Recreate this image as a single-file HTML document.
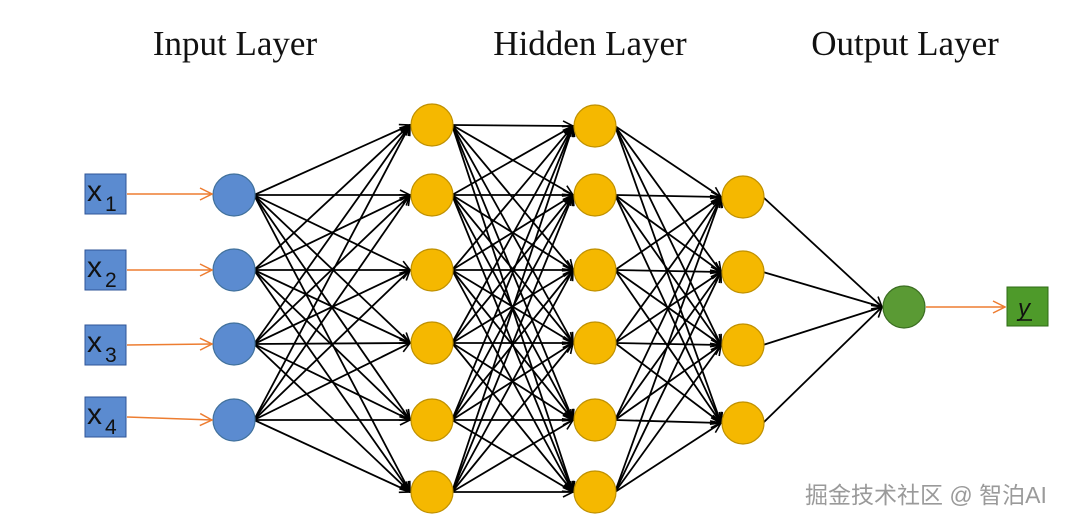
<!DOCTYPE html>
<html><head><meta charset="utf-8"><style>
body{margin:0;background:#fff;width:1080px;height:528px;overflow:hidden}
svg{display:block}
</style></head><body>
<svg width="1080" height="528" xmlns="http://www.w3.org/2000/svg">
<defs>
<marker id="a" markerWidth="12" markerHeight="12" refX="11" refY="6" orient="auto" markerUnits="userSpaceOnUse"><path d="M1,1 L11,6 L1,11" fill="none" stroke="#000" stroke-width="1.6"/></marker>
<marker id="o" markerWidth="14" markerHeight="14" refX="13" refY="7" orient="auto" markerUnits="userSpaceOnUse"><path d="M1,1 L13,7 L1,13" fill="none" stroke="#ed7d31" stroke-width="1.5"/></marker>
</defs>
<g font-family="Liberation Serif, serif" font-size="35" fill="#111" text-anchor="middle">
<text x="235" y="55">Input Layer</text>
<text x="590" y="55">Hidden Layer</text>
<text x="905" y="55">Output Layer</text>
</g>
<g stroke="#000" stroke-width="1.8" marker-end="url(#a)">
<!-- L0 -> L1 -->
<line x1="254" y1="195" x2="410" y2="125"/><line x1="254" y1="195" x2="410" y2="195"/><line x1="254" y1="195" x2="410" y2="270"/><line x1="254" y1="195" x2="410" y2="343"/><line x1="254" y1="195" x2="410" y2="420"/><line x1="254" y1="195" x2="410" y2="492"/>
<line x1="254" y1="270" x2="410" y2="125"/><line x1="254" y1="270" x2="410" y2="195"/><line x1="254" y1="270" x2="410" y2="270"/><line x1="254" y1="270" x2="410" y2="343"/><line x1="254" y1="270" x2="410" y2="420"/><line x1="254" y1="270" x2="410" y2="492"/>
<line x1="254" y1="344" x2="410" y2="125"/><line x1="254" y1="344" x2="410" y2="195"/><line x1="254" y1="344" x2="410" y2="270"/><line x1="254" y1="344" x2="410" y2="343"/><line x1="254" y1="344" x2="410" y2="420"/><line x1="254" y1="344" x2="410" y2="492"/>
<line x1="254" y1="420" x2="410" y2="125"/><line x1="254" y1="420" x2="410" y2="195"/><line x1="254" y1="420" x2="410" y2="270"/><line x1="254" y1="420" x2="410" y2="343"/><line x1="254" y1="420" x2="410" y2="420"/><line x1="254" y1="420" x2="410" y2="492"/>
<!-- L1 -> L2 -->
<line x1="452" y1="125" x2="573" y2="126"/><line x1="452" y1="125" x2="573" y2="195"/><line x1="452" y1="125" x2="573" y2="270"/><line x1="452" y1="125" x2="573" y2="343"/><line x1="452" y1="125" x2="573" y2="420"/><line x1="452" y1="125" x2="573" y2="492"/>
<line x1="452" y1="195" x2="573" y2="126"/><line x1="452" y1="195" x2="573" y2="195"/><line x1="452" y1="195" x2="573" y2="270"/><line x1="452" y1="195" x2="573" y2="343"/><line x1="452" y1="195" x2="573" y2="420"/><line x1="452" y1="195" x2="573" y2="492"/>
<line x1="452" y1="270" x2="573" y2="126"/><line x1="452" y1="270" x2="573" y2="195"/><line x1="452" y1="270" x2="573" y2="270"/><line x1="452" y1="270" x2="573" y2="343"/><line x1="452" y1="270" x2="573" y2="420"/><line x1="452" y1="270" x2="573" y2="492"/>
<line x1="452" y1="343" x2="573" y2="126"/><line x1="452" y1="343" x2="573" y2="195"/><line x1="452" y1="343" x2="573" y2="270"/><line x1="452" y1="343" x2="573" y2="343"/><line x1="452" y1="343" x2="573" y2="420"/><line x1="452" y1="343" x2="573" y2="492"/>
<line x1="452" y1="420" x2="573" y2="126"/><line x1="452" y1="420" x2="573" y2="195"/><line x1="452" y1="420" x2="573" y2="270"/><line x1="452" y1="420" x2="573" y2="343"/><line x1="452" y1="420" x2="573" y2="420"/><line x1="452" y1="420" x2="573" y2="492"/>
<line x1="452" y1="492" x2="573" y2="126"/><line x1="452" y1="492" x2="573" y2="195"/><line x1="452" y1="492" x2="573" y2="270"/><line x1="452" y1="492" x2="573" y2="343"/><line x1="452" y1="492" x2="573" y2="420"/><line x1="452" y1="492" x2="573" y2="492"/>
<!-- L2 -> L3 -->
<line x1="615" y1="126" x2="721" y2="197"/><line x1="615" y1="126" x2="721" y2="272"/><line x1="615" y1="126" x2="721" y2="345"/><line x1="615" y1="126" x2="721" y2="423"/>
<line x1="615" y1="195" x2="721" y2="197"/><line x1="615" y1="195" x2="721" y2="272"/><line x1="615" y1="195" x2="721" y2="345"/><line x1="615" y1="195" x2="721" y2="423"/>
<line x1="615" y1="270" x2="721" y2="197"/><line x1="615" y1="270" x2="721" y2="272"/><line x1="615" y1="270" x2="721" y2="345"/><line x1="615" y1="270" x2="721" y2="423"/>
<line x1="615" y1="343" x2="721" y2="197"/><line x1="615" y1="343" x2="721" y2="272"/><line x1="615" y1="343" x2="721" y2="345"/><line x1="615" y1="343" x2="721" y2="423"/>
<line x1="615" y1="420" x2="721" y2="197"/><line x1="615" y1="420" x2="721" y2="272"/><line x1="615" y1="420" x2="721" y2="345"/><line x1="615" y1="420" x2="721" y2="423"/>
<line x1="615" y1="492" x2="721" y2="197"/><line x1="615" y1="492" x2="721" y2="272"/><line x1="615" y1="492" x2="721" y2="345"/><line x1="615" y1="492" x2="721" y2="423"/>
<!-- L3 -> out -->
<line x1="763" y1="197" x2="882" y2="307"/><line x1="763" y1="272" x2="882" y2="307"/><line x1="763" y1="345" x2="882" y2="307"/><line x1="763" y1="423" x2="882" y2="307"/>
</g>
<g stroke-width="1.2">
<g fill="#5b8bd0" stroke="#41719c">
<circle cx="234" cy="195" r="21"/><circle cx="234" cy="270" r="21"/><circle cx="234" cy="344" r="21"/><circle cx="234" cy="420" r="21"/>
</g>
<g fill="#f5b800" stroke="#bf9000">
<circle cx="432" cy="125" r="21"/><circle cx="432" cy="195" r="21"/><circle cx="432" cy="270" r="21"/><circle cx="432" cy="343" r="21"/><circle cx="432" cy="420" r="21"/><circle cx="432" cy="492" r="21"/>
<circle cx="595" cy="126" r="21"/><circle cx="595" cy="195" r="21"/><circle cx="595" cy="270" r="21"/><circle cx="595" cy="343" r="21"/><circle cx="595" cy="420" r="21"/><circle cx="595" cy="492" r="21"/>
<circle cx="743" cy="197" r="21"/><circle cx="743" cy="272" r="21"/><circle cx="743" cy="345" r="21"/><circle cx="743" cy="423" r="21"/>
</g>
<circle cx="904" cy="307" r="21" fill="#5a9a34" stroke="#3b6e22"/>
</g>
<g font-family="Liberation Sans, sans-serif" fill="#111">
<rect x="85" y="174" width="41" height="40" fill="#5b8bd0" stroke="#2f5597"/>
<rect x="85" y="250" width="41" height="40" fill="#5b8bd0" stroke="#2f5597"/>
<rect x="85" y="325" width="41" height="40" fill="#5b8bd0" stroke="#2f5597"/>
<rect x="85" y="397" width="41" height="40" fill="#5b8bd0" stroke="#2f5597"/>
<text x="87" y="201" font-size="30">x</text><text x="105" y="211" font-size="21">1</text>
<text x="87" y="277" font-size="30">x</text><text x="105" y="287" font-size="21">2</text>
<text x="87" y="352" font-size="30">x</text><text x="105" y="362" font-size="21">3</text>
<text x="87" y="424" font-size="30">x</text><text x="105" y="434" font-size="21">4</text>
<rect x="1007" y="287" width="41" height="39" fill="#4e9a2a" stroke="#2e6b14"/>
<text x="1018" y="316" font-size="24" font-style="italic">y</text>
<line x1="1017" y1="320" x2="1032" y2="320" stroke="#111" stroke-width="1.5"/>
</g>
<g stroke="#ed7d31" stroke-width="1.6" marker-end="url(#o)">
<line x1="127" y1="194" x2="212" y2="194"/>
<line x1="127" y1="270" x2="212" y2="270"/>
<line x1="127" y1="345" x2="212" y2="344"/>
<line x1="127" y1="417" x2="212" y2="420"/>
<line x1="926" y1="307" x2="1005" y2="307"/>
</g>
<text x="805" y="503" font-family="Liberation Sans, Noto Sans CJK SC, sans-serif" font-size="23" fill="#9a9a9a">掘金技术社区 @ 智泊AI</text>
</svg>
</body></html>
